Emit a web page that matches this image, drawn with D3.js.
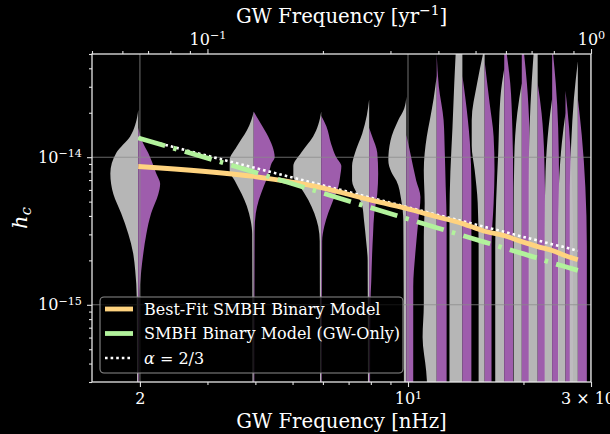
<!DOCTYPE html>
<html><head><meta charset="utf-8">
<script src="https://cdn.jsdelivr.net/npm/d3@7"></script>
<style>body{margin:0;background:#000;} svg{display:block;font-family:"DejaVu Serif",serif;}</style>
</head><body><svg id="c" width="610" height="434"></svg>
<script>
// ---- data ----
const freqs = [1.98, 3.96, 5.94, 7.92, 9.90, 11.88, 13.86, 15.84, 17.82, 19.80, 21.78, 23.76, 25.74, 27.72]; // nHz
const bestFit = [8.65e-15, 7.40e-15, 6.22e-15, 5.16e-15, 4.49e-15, 3.95e-15, 3.55e-15, 3.15e-15, 2.94e-15, 2.68e-15, 2.48e-15, 2.33e-15, 2.15e-15, 2.02e-15];
const gwOnly = [1.349e-14, 7.95e-15, 5.75e-15, 4.58e-15, 3.84e-15, 3.33e-15, 2.95e-15, 2.66e-15, 2.42e-15, 2.23e-15, 2.07e-15, 1.92e-15, 1.81e-15, 1.71e-15];
const alphaTwoThirds = [1.349e-14, 8.50e-15, 6.49e-15, 5.35e-15, 4.61e-15, 4.08e-15, 3.69e-15, 3.37e-15, 3.12e-15, 2.90e-15, 2.73e-15, 2.57e-15, 2.45e-15, 2.32e-15];
// violin halves: [log10 hc, density]
const grayShapes = [
  [[-13.68,0],[-13.78,0.1],[-13.86,0.27],[-13.97,0.73],[-14.11,0.93],[-14.25,0.83],[-14.38,0.57],[-14.52,0.33],[-14.65,0.17],[-14.77,0.1],[-14.95,0.05],[-15.6,0.04]],
  [[-13.69,0],[-13.75,0.08],[-13.82,0.23],[-13.93,0.57],[-14.02,0.8],[-14.09,0.8],[-14.16,0.63],[-14.25,0.4],[-14.33,0.23],[-14.43,0.1],[-14.52,0.05],[-15.6,0.04]],
  [[-13.69,0],[-13.78,0.1],[-13.86,0.27],[-13.97,0.67],[-14.06,0.93],[-14.13,0.93],[-14.2,0.7],[-14.29,0.43],[-14.38,0.23],[-14.47,0.1],[-14.57,0.05],[-15.6,0.04]],
  [[-13.61,0],[-13.72,0.08],[-13.84,0.23],[-13.97,0.47],[-14.06,0.57],[-14.16,0.57],[-14.25,0.4],[-14.33,0.23],[-14.43,0.17],[-14.57,0.1],[-14.7,0.05],[-15.6,0.04]],
  [[-13.59,0],[-13.67,0.07],[-13.75,0.27],[-13.89,0.53],[-14.02,0.6],[-14.1,0.5],[-14.16,0.33],[-14.29,0.17],[-14.43,0.1],[-15.6,0.08]],
  [[-13.45,0],[-13.6,0.1],[-13.75,0.23],[-13.86,0.33],[-14.09,0.43],[-14.31,0.4],[-14.54,0.43],[-14.77,0.43],[-15.0,0.43],[-15.22,0.47],[-15.45,0.35],[-15.6,0.3]],
  [[-13.2,0.2],[-13.5,0.27],[-13.8,0.33],[-14.1,0.4],[-14.4,0.43],[-15.6,0.43]],
  [[-13.25,0],[-13.5,0.25],[-13.75,0.43],[-13.92,0.43],[-14.09,0.33],[-14.31,0.23],[-14.6,0.2],[-15.6,0.2]],
  [[-13.4,0],[-13.6,0.13],[-13.97,0.2],[-14.3,0.27],[-14.6,0.3],[-15.6,0.3]],
  [[-13.5,0],[-13.7,0.15],[-14.0,0.25],[-14.4,0.27],[-15.6,0.27]],
  [[-13.2,0.1],[-13.5,0.2],[-13.8,0.27],[-14.2,0.3],[-15.6,0.3]],
  [[-13.6,0],[-13.8,0.12],[-14.1,0.22],[-14.5,0.25],[-15.6,0.25]],
  [[-13.7,0],[-13.9,0.12],[-14.2,0.22],[-14.6,0.25],[-15.6,0.25]],
  [[-13.35,0],[-13.6,0.13],[-13.9,0.22],[-14.3,0.27],[-15.6,0.27]]
];
const purpleShapes = [
  [[-13.8,0],[-13.9,0.15],[-13.97,0.33],[-14.11,0.6],[-14.18,0.73],[-14.25,0.67],[-14.38,0.43],[-14.52,0.27],[-14.65,0.17],[-14.77,0.1],[-14.95,0.04],[-15.6,0.02]],
  [[-13.69,0],[-13.75,0.17],[-13.84,0.43],[-13.93,0.63],[-14.0,0.7],[-14.04,0.6],[-14.11,0.5],[-14.2,0.33],[-14.29,0.17],[-14.38,0.07],[-14.5,0.03],[-15.6,0.02]],
  [[-13.72,0],[-13.79,0.17],[-13.91,0.33],[-14.0,0.5],[-14.06,0.67],[-14.13,0.63],[-14.2,0.57],[-14.29,0.4],[-14.38,0.23],[-14.47,0.1],[-14.57,0.03],[-15.6,0.02]],
  [[-13.8,0],[-13.86,0.1],[-13.97,0.27],[-14.11,0.3],[-14.25,0.27],[-14.38,0.17],[-14.52,0.13],[-14.65,0.1],[-14.84,0.07],[-15.0,0.04],[-15.6,0.03]],
  [[-13.85,0],[-13.97,0.13],[-14.16,0.33],[-14.27,0.47],[-14.43,0.4],[-14.65,0.3],[-14.88,0.23],[-15.6,0.23]],
  [[-13.3,0],[-13.52,0.07],[-13.75,0.23],[-13.97,0.27],[-14.2,0.3],[-14.43,0.33],[-15.6,0.33]],
  [[-13.45,0],[-13.6,0.1],[-13.9,0.25],[-14.2,0.3],[-15.6,0.3]],
  [[-13.35,0],[-13.64,0.17],[-13.86,0.3],[-14.09,0.33],[-14.31,0.3],[-14.6,0.23],[-15.6,0.23]],
  [[-13.25,0.05],[-13.5,0.2],[-13.8,0.27],[-14.2,0.3],[-15.6,0.3]],
  [[-13.25,0.05],[-13.5,0.17],[-13.8,0.25],[-14.2,0.27],[-15.6,0.25]],
  [[-13.5,0],[-13.7,0.13],[-14.0,0.22],[-14.4,0.25],[-15.6,0.25]],
  [[-13.3,0.03],[-13.5,0.12],[-13.8,0.2],[-14.2,0.23],[-15.6,0.23]],
  [[-13.55,0],[-13.8,0.12],[-14.1,0.2],[-14.5,0.25],[-15.6,0.25]],
  [[-13.6,0],[-13.85,0.13],[-14.2,0.25],[-14.6,0.3],[-15.6,0.3]]
];
const xMajorTicks = [2, 10, 30];
const xMinorTicks = [3, 4, 5, 6, 7, 8, 9, 20];
const topMajorTicks = [0.1, 1];
const topMinorTicks = [0.05, 0.06, 0.07, 0.08, 0.09, 0.2, 0.3, 0.4, 0.5, 0.6, 0.7, 0.8, 0.9];
const yMajorTicks = [1e-15, 1e-14];
const yMinorTicks = [3e-16,4e-16,5e-16,6e-16,7e-16,8e-16,9e-16,2e-15,3e-15,4e-15,5e-15,6e-15,7e-15,8e-15,9e-15,2e-14,3e-14,4e-14,5e-14];
const legendLabels = ["Best-Fit SMBH Binary Model", "SMBH Binary Model (GW-Only)", "α = 2/3"];

// ---- layout ----
const L = 92, R = 591, T = 54, B = 382;
const svg = d3.select('#c');
svg.append('rect').attr('width', 610).attr('height', 434).attr('fill', '#000');

const x = d3.scaleLog().domain([1.5, 30]).range([L, R]);
const xTop = d3.scaleLog().domain([0.05, 1]).range([L, R]);
const y = d3.scaleLog().domain([3e-16, 5e-14]).range([B, T]);
const w = d3.scaleLinear().domain([0, 1]).range([0, 30]);

svg.append('clipPath').attr('id', 'clip').append('rect')
  .attr('x', L).attr('y', T).attr('width', R - L).attr('height', B - T);
const plot = svg.append('g').attr('clip-path', 'url(#clip)');

const GRAY = '#c0c0c0', PURPLE = '#a662b5';

// violins
freqs.forEach((f, i) => {
  const cx = x(f);
  const gArea = d3.area().curve(d3.curveMonotoneY)
    .y(d => y(Math.pow(10, d[0]))).x0(cx).x1(d => cx - w(d[1]));
  const pArea = d3.area().curve(d3.curveMonotoneY)
    .y(d => y(Math.pow(10, d[0]))).x0(cx).x1(d => cx + w(d[1]));
  plot.append('path').attr('d', gArea(grayShapes[i])).attr('fill', GRAY).attr('fill-opacity', 0.95);
  plot.append('path').attr('d', pArea(purpleShapes[i])).attr('fill', PURPLE).attr('fill-opacity', 0.95);
});

// grid
const grid = plot.append('g').attr('stroke', '#8a8a8a').attr('stroke-opacity', 0.75).attr('stroke-width', 1.1);
yMajorTicks.forEach(v => grid.append('line').attr('x1', L).attr('x2', R).attr('y1', y(v)).attr('y2', y(v)));
xMajorTicks.forEach(v => grid.append('line').attr('x1', x(v)).attr('x2', x(v)).attr('y1', T).attr('y2', B));

// model lines
const lineGen = vals => d3.line().curve(d3.curveMonotoneX)
  .x((d, i) => x(freqs[i])).y(d => y(d))(vals);
plot.append('path').attr('d', lineGen(alphaTwoThirds)).attr('fill', 'none')
  .attr('stroke', '#ffffff').attr('stroke-width', 2.6).attr('stroke-dasharray', '2.6,3');
plot.append('path').attr('d', lineGen(bestFit)).attr('fill', 'none')
  .attr('stroke', '#ffd37f').attr('stroke-width', 4.8);
plot.append('path').attr('d', lineGen(gwOnly)).attr('fill', 'none')
  .attr('stroke', '#b2f29c').attr('stroke-width', 4.8).attr('stroke-dasharray', '28,8.5,3.5,8.5');

// legend
const leg = svg.append('g');
leg.append('rect').attr('x', 100).attr('y', 297).attr('width', 303).attr('height', 76).attr('rx', 4)
  .attr('fill', '#000').attr('fill-opacity', 0.8).attr('stroke', '#8c8c8c').attr('stroke-width', 1.1);
const legStyles = [
  {stroke: '#ffd37f', dash: null, wdt: 4.8},
  {stroke: '#b2f29c', dash: null, wdt: 4.8},
  {stroke: '#ffffff', dash: '2.6,3', wdt: 2.6}
];
legendLabels.forEach((lab, i) => {
  const yy = 309 + i * 24.5;
  leg.append('line').attr('x1', 105).attr('x2', 133).attr('y1', yy).attr('y2', yy)
    .attr('stroke', legStyles[i].stroke).attr('stroke-width', legStyles[i].wdt)
    .attr('stroke-dasharray', legStyles[i].dash);
  const t = leg.append('text').attr('x', 144).attr('y', yy + 5.5).attr('fill', '#fff').attr('font-size', 16);
  if (i === 2) {
    t.append('tspan').attr('font-style', 'italic').text('α');
    t.append('tspan').text(' = 2/3');
  } else t.text(lab);
});

// axes
function styleAxis(g) {
  g.select('.domain').remove();
  g.selectAll('.tick line').attr('stroke', '#e0e0e0').attr('stroke-width', 1.1);
  g.selectAll('.tick text').attr('fill', '#fff').attr('font-size', 16).attr('font-family', '"DejaVu Serif", serif');
}
function sup(t, base, s) {
  t.text(null);
  t.append('tspan').text(base);
  t.append('tspan').attr('font-size', 11.2).attr('dy', '-0.5em').text(s);
}
// bottom
const gbMin = svg.append('g').attr('transform', `translate(0,${B})`)
  .call(d3.axisBottom(x).tickValues(xMinorTicks).tickSize(3).tickFormat(''));
styleAxis(gbMin);
const gb = svg.append('g').attr('transform', `translate(0,${B})`)
  .call(d3.axisBottom(x).tickValues(xMajorTicks).tickSize(5).tickPadding(6).tickFormat(d => d));
styleAxis(gb);
gb.selectAll('.tick text').each(function(d) {
  const t = d3.select(this);
  if (d === 10) sup(t, '10', '1');
  else if (d === 30) sup(t, '3 × 10', '1');
  else t.text('2');
});
// top
const gtMin = svg.append('g').attr('transform', `translate(0,${T})`)
  .call(d3.axisTop(xTop).tickValues(topMinorTicks).tickSize(3).tickFormat(''));
styleAxis(gtMin);
const gt = svg.append('g').attr('transform', `translate(0,${T})`)
  .call(d3.axisTop(xTop).tickValues(topMajorTicks).tickSize(5).tickPadding(4).tickFormat(d => d));
styleAxis(gt);
gt.selectAll('.tick text').each(function(d) {
  const t = d3.select(this);
  if (d === 1) sup(t, '10', '0'); else sup(t, '10', '−1');
});
// left
const glMin = svg.append('g').attr('transform', `translate(${L},0)`)
  .call(d3.axisLeft(y).tickValues(yMinorTicks).tickSize(3).tickFormat(''));
styleAxis(glMin);
const gl = svg.append('g').attr('transform', `translate(${L},0)`)
  .call(d3.axisLeft(y).tickValues(yMajorTicks).tickSize(5).tickPadding(5).tickFormat(d => d));
styleAxis(gl);
gl.selectAll('.tick text').each(function(d) {
  const t = d3.select(this);
  sup(t, '10', '−' + Math.round(-Math.log10(d)));
});

// spines
svg.append('rect').attr('x', L).attr('y', T).attr('width', R - L).attr('height', B - T)
  .attr('fill', 'none').attr('stroke', '#e6e6e6').attr('stroke-width', 1.3);

// titles
svg.append('text').attr('x', (L + R) / 2).attr('y', 428).attr('text-anchor', 'middle')
  .attr('fill', '#fff').attr('font-size', 19.7).text('GW Frequency [nHz]');
const tt = svg.append('text').attr('x', (L + R) / 2).attr('y', 23).attr('text-anchor', 'middle')
  .attr('fill', '#fff').attr('font-size', 19.7);
tt.append('tspan').text('GW Frequency [yr');
tt.append('tspan').attr('font-size', 13.8).attr('dy', '-0.55em').text('−1');
tt.append('tspan').attr('dy', '0.4em').text(']');
const yl = svg.append('text').attr('transform', 'translate(27,218) rotate(-90)').attr('text-anchor', 'middle')
  .attr('fill', '#fff').attr('font-size', 21).attr('font-style', 'italic');
yl.append('tspan').text('h');
yl.append('tspan').attr('font-size', 14.7).attr('dy', '0.25em').text('c');
</script></body></html>
